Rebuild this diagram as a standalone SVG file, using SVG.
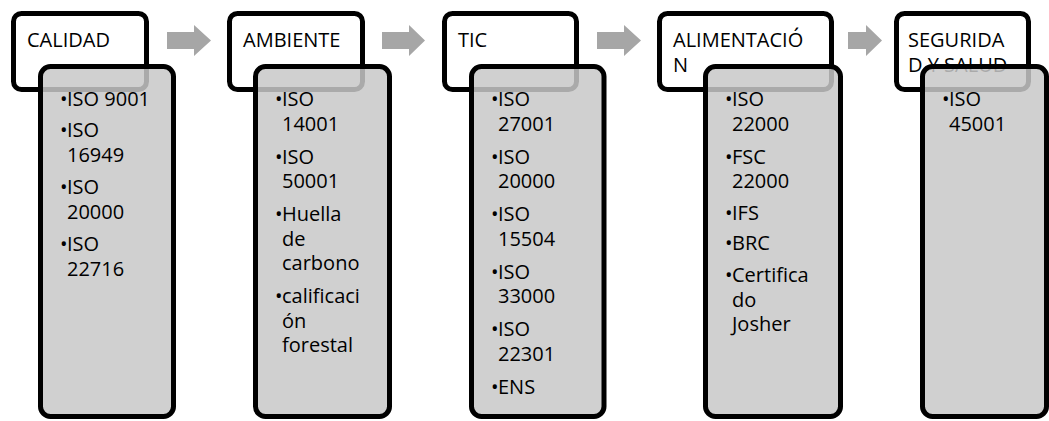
<svg xmlns="http://www.w3.org/2000/svg" width="1049" height="421" viewBox="0 0 1049 421">
<style>
text{font-family:"Open Sans","Liberation Sans",sans-serif;font-size:20px;fill:#000}
.hd{fill:#fff;stroke:#000;stroke-width:5}
.bx{fill:#c8c8c8;fill-opacity:0.85;stroke:#000;stroke-width:5}
.ar{fill:#a6a6a6}
</style>
<rect width="1049" height="421" fill="#fff"/>
<g id="connectors">
<polygon class="ar" points="167,32 194,32 194,25 211,40.5 194,56 194,49 167,49"/>
<polygon class="ar" points="382,32 409,32 409,25 425,40.5 409,56 409,49 382,49"/>
<polygon class="ar" points="597,32 624,32 624,25 641,40.5 624,56 624,49 597,49"/>
<polygon class="ar" points="848,32 866,32 866,25 882,40.5 866,56 866,49 848,49"/>
</g>
<g id="calidad">
<rect class="hd" x="13.5" y="13.5" width="133" height="76" rx="8"/>
<text x="27" y="47">CALIDAD</text>
<rect class="bx" x="40.5" y="66.5" width="133" height="350" rx="10"/>
<text x="60" y="106">•</text><text x="67" y="106">ISO 9001</text>
<text x="60" y="137">•</text><text x="67" y="137">ISO</text><text x="67" y="161.5">16949</text>
<text x="60" y="194">•</text><text x="67" y="194">ISO</text><text x="67" y="218.5">20000</text>
<text x="60" y="251">•</text><text x="67" y="251">ISO</text><text x="67" y="275.5">22716</text>
</g>
<g id="ambiente">
<rect class="hd" x="229.5" y="13.5" width="133" height="76" rx="8"/>
<text x="243" y="47">AMBIENTE</text>
<rect class="bx" x="255.5" y="66.5" width="134" height="350" rx="10"/>
<text x="275" y="106">•</text><text x="282" y="106">ISO</text><text x="282" y="130.5">14001</text>
<text x="275" y="163.5">•</text><text x="282" y="163.5">ISO</text><text x="282" y="188">50001</text>
<text x="275" y="221">•</text><text x="282" y="221">Huella</text><text x="282" y="245.5">de</text><text x="282" y="270">carbono</text>
<text x="275" y="303">•</text><text x="282" y="303">calificaci</text><text x="282" y="327.5">ón</text><text x="282" y="352">forestal</text>
</g>
<g id="tic">
<rect class="hd" x="444.5" y="13.5" width="132" height="76" rx="8"/>
<text x="458" y="47">TIC</text>
<rect class="bx" x="471.5" y="66.5" width="132.5" height="350" rx="10"/>
<text x="491" y="106">•</text><text x="498" y="106">ISO</text><text x="498" y="130.5">27001</text>
<text x="491" y="163.5">•</text><text x="498" y="163.5">ISO</text><text x="498" y="188">20000</text>
<text x="491" y="221">•</text><text x="498" y="221">ISO</text><text x="498" y="245.5">15504</text>
<text x="491" y="278.5">•</text><text x="498" y="278.5">ISO</text><text x="498" y="303">33000</text>
<text x="491" y="336">•</text><text x="498" y="336">ISO</text><text x="498" y="360.5">22301</text>
<text x="491" y="393.5">•</text><text x="498" y="393.5">ENS</text>
</g>
<g id="alimentacion">
<rect class="hd" x="659.5" y="13.5" width="172" height="76" rx="8"/>
<text x="673" y="47">ALIMENTACIÓ</text>
<text x="673" y="71.5">N</text>
<rect class="bx" x="705.5" y="66.5" width="135" height="350" rx="10"/>
<text x="725" y="106">•</text><text x="732" y="106">ISO</text><text x="732" y="130.5">22000</text>
<text x="725" y="163.5">•</text><text x="732" y="163.5">FSC</text><text x="732" y="188">22000</text>
<text x="725" y="220">•</text><text x="732" y="220">IFS</text>
<text x="725" y="250">•</text><text x="732" y="250">BRC</text>
<text x="725" y="282">•</text><text x="732" y="282">Certifica</text><text x="732" y="306.5">do</text><text x="732" y="331">Josher</text>
</g>
<g id="seguridad">
<rect class="hd" x="896.5" y="13.5" width="132" height="76" rx="8"/>
<text x="908" y="47">SEGURIDA</text>
<text x="908" y="71.5">D Y SALUD</text>
<rect class="bx" x="922.5" y="66.5" width="124" height="350" rx="10"/>
<text x="942" y="106">•</text><text x="949" y="106">ISO</text><text x="949" y="130.5">45001</text>
</g>
</svg>
